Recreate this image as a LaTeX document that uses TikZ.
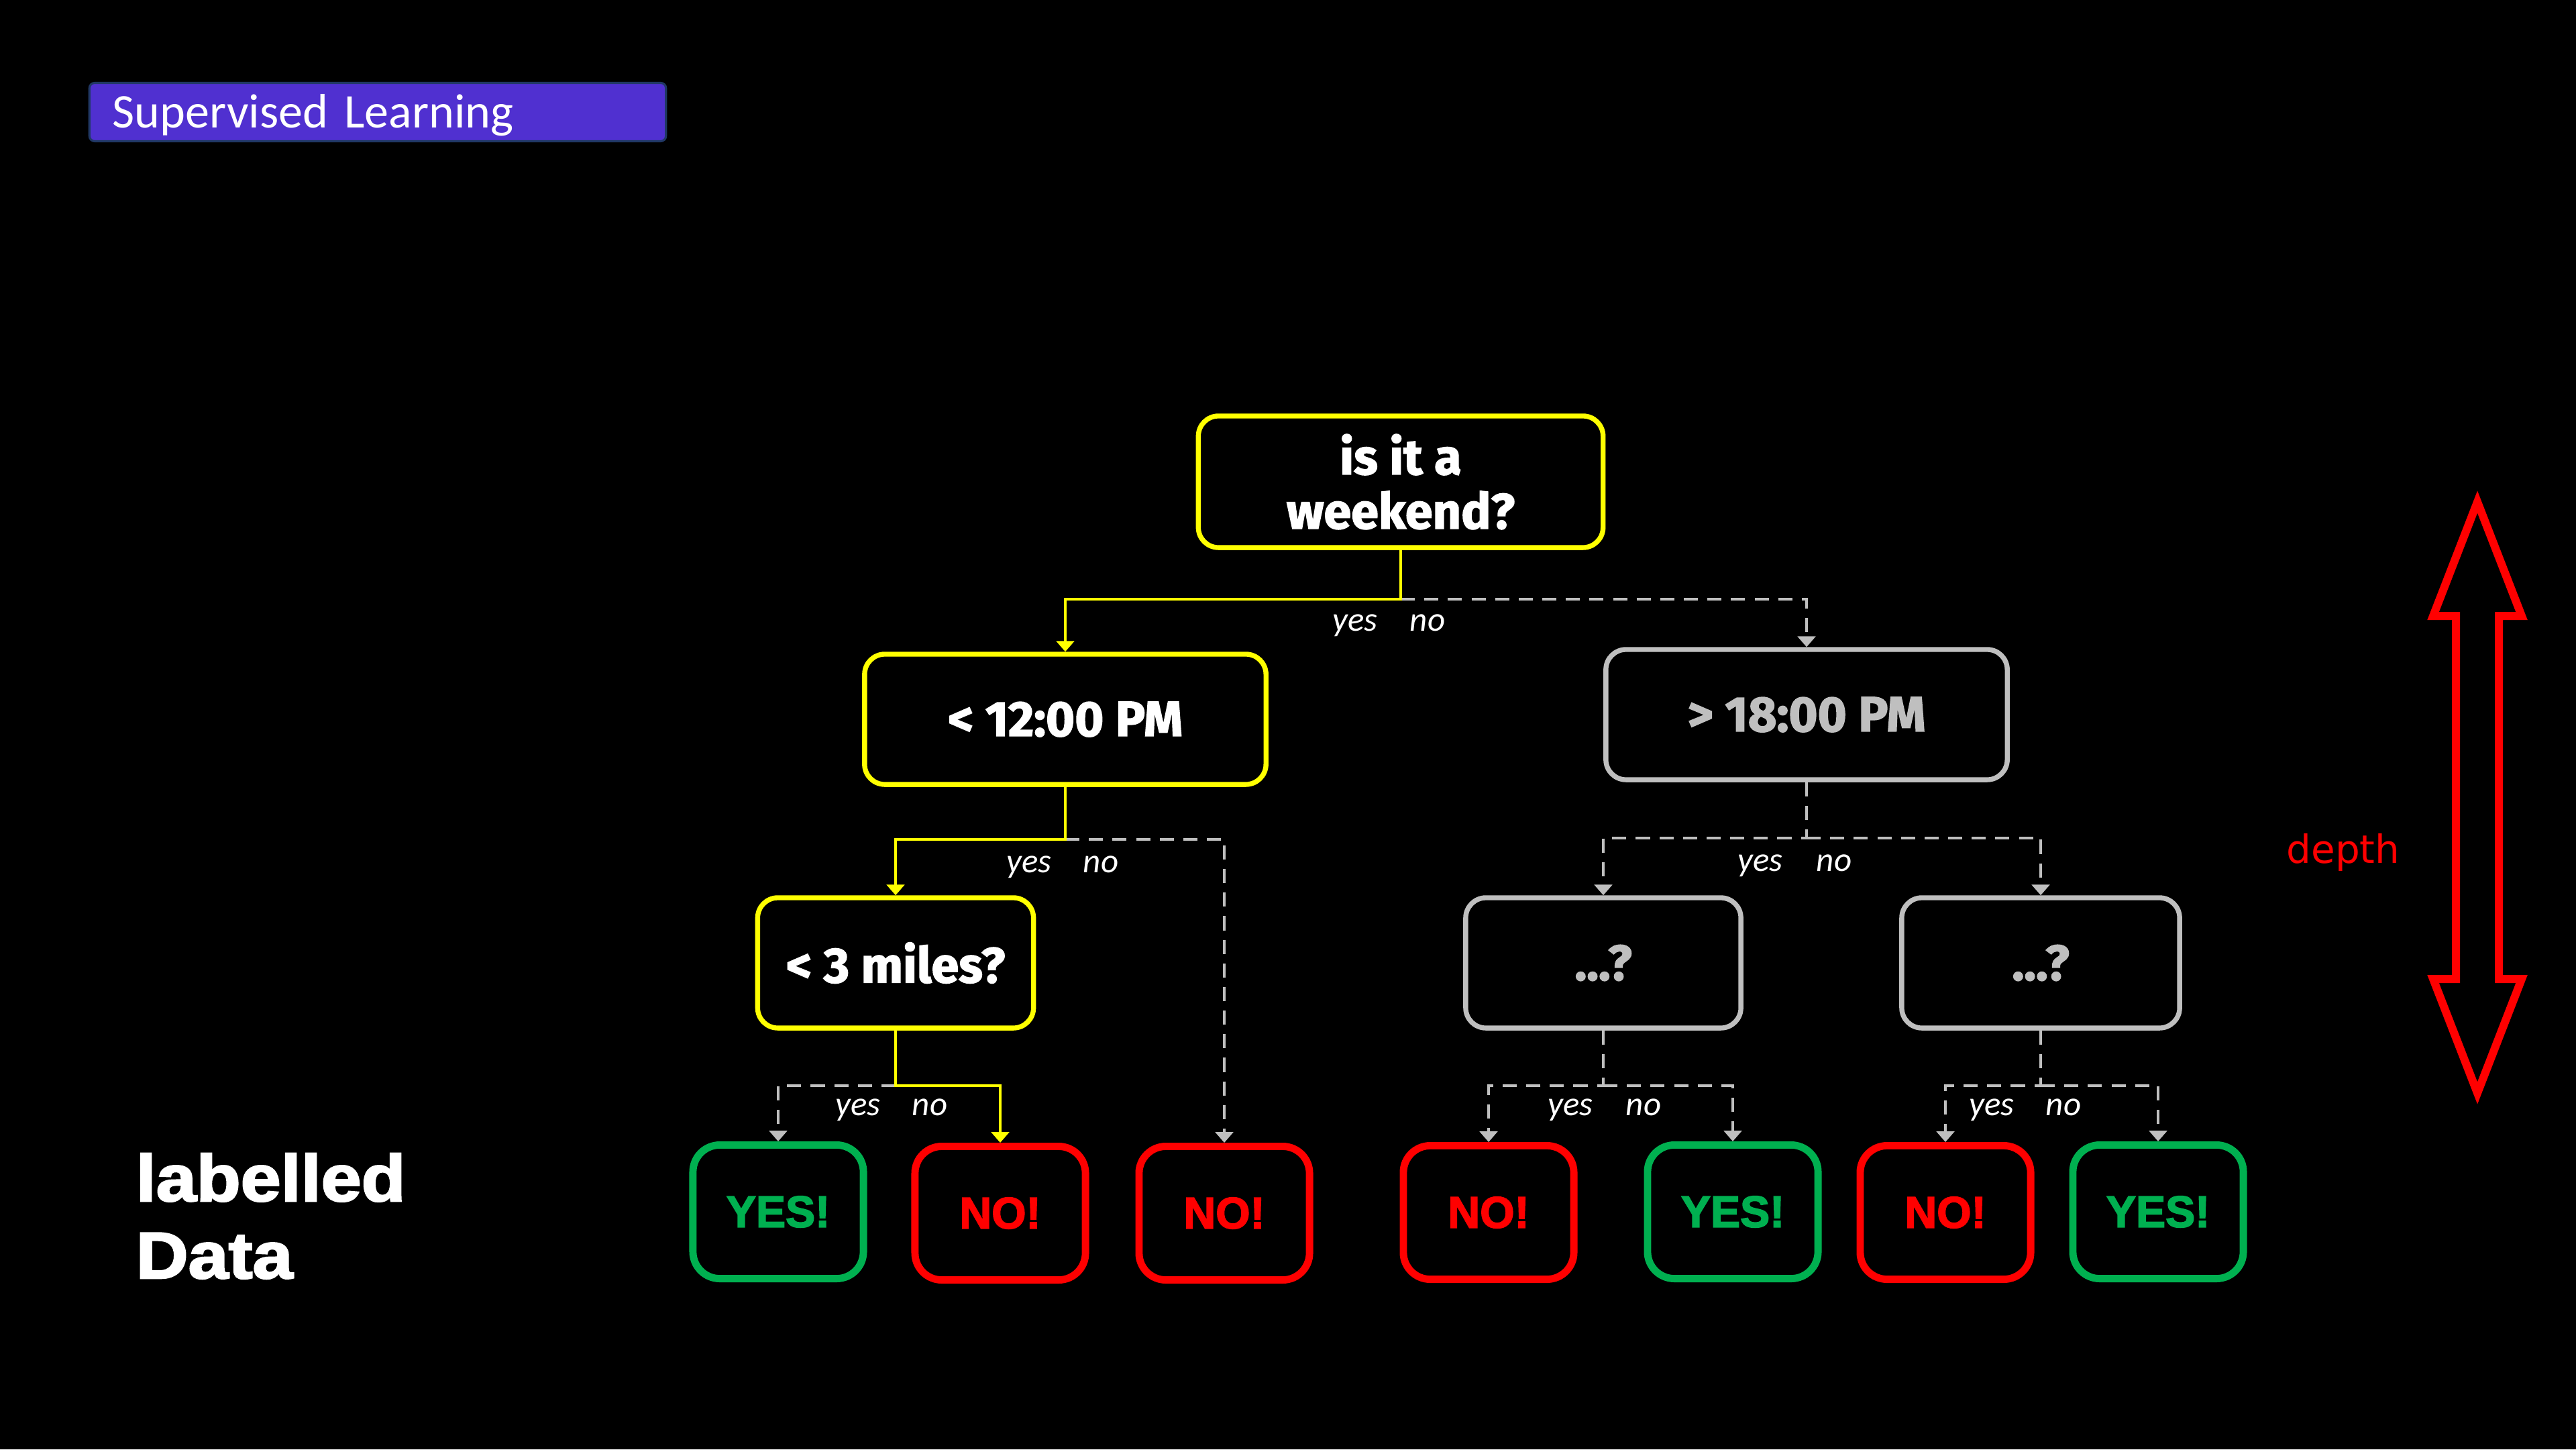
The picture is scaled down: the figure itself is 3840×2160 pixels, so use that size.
\documentclass[tikz,border=0pt]{standalone}
\usepackage{fontspec}
\usepackage{graphicx}
\setmainfont{Carlito}
\newfontfamily\qfont{Fira Sans}[BoldFeatures={FakeBold=2}]
\newfontfamily\leaffont{Liberation Sans}[BoldFeatures={FakeBold=2.5}]
\newfontfamily\depthfont{DejaVu Sans}
\usepackage{tikz}
\usetikzlibrary{positioning}
\usetikzlibrary{arrows.meta}

\definecolor{qyellow}{HTML}{FFFF00}
\definecolor{qgray}{HTML}{BFBFBF}
\definecolor{leafgreen}{HTML}{00B050}
\definecolor{leafred}{HTML}{FF0000}
\definecolor{bannerfill}{HTML}{5030D0}
\definecolor{bannerline}{HTML}{203864}

\begin{document}
\begin{tikzpicture}
  [ x=0.01cm, y=-0.01cm,
    quest/.style={rectangle, rounded corners=0.3cm, line width=2.1pt, fill=black,
      minimum width=5.98cm, minimum height=1.94cm, align=center, text=white,
      font=\qfont\bfseries\fontsize{21}{23}\selectfont},
    leaf/.style={rectangle, rounded corners=0.4cm, line width=3.1pt, fill=black,
      minimum width=2.54cm, minimum height=1.99cm,
      font=\leaffont\bfseries\fontsize{18.8}{20}\selectfont},
    yesline/.style={draw=qyellow, line width=1.3pt,
      -{Triangle[length=4.5pt,width=7.5pt]}},
    noline/.style={draw=qgray, line width=1.2pt, dash pattern=on 6pt off 4pt,
      -{Triangle[length=4.5pt,width=7.5pt]}},
    ans/.style={anchor=base, inner sep=0pt, text=white,
      font=\itshape\fontsize{14.5}{16}\selectfont},
    bigtxt/.style={inner sep=0pt, text=white,
      font=\leaffont\bfseries\fontsize{27.9}{32}\selectfont},
    banner/.style={rectangle, rounded corners=0.08cm, fill=bannerfill,
      draw=bannerline, line width=0.9pt, minimum width=8.59cm,
      minimum height=0.87cm, text width=7.9cm, text height=0.47cm,
      text depth=0pt, inner sep=0pt, align=left, text=white,
      font=\fontsize{20.5}{24}\selectfont},
    bigarrow/.style={draw=leafred, line width=0.12cm, line join=miter}
  ]

  \fill[black] (0,0) rectangle (3840,2160);
  \useasboundingbox (0,0) rectangle (3840,2160);

  \node (banner) at (563,167) [banner] {Supervised Learning};

  \node (root)  at (2088, 718) [quest, draw=qyellow, minimum width=6.03cm,
    minimum height=1.96cm] {is it a\\weekend?};
  \node (am)    at (1588,1072) [quest, draw=qyellow] {< 12:00 PM};
  \node (pm)    at (2693,1065) [quest, draw=qgray, text=qgray] {> 18:00 PM};
  \node (miles) at (1335,1435) [quest, draw=qyellow, minimum width=4.11cm] {< 3 miles?};
  \node (qL)    at (2390,1435) [quest, draw=qgray, text=qgray, minimum width=4.10cm] {...?};
  \node (qR)    at (3042,1435) [quest, draw=qgray, text=qgray, minimum width=4.14cm] {...?};

  \node (l1) at (1160,1806) [leaf, draw=leafgreen, text=leafgreen] {YES!};
  \node (l2) at (1491,1808) [leaf, draw=leafred,   text=leafred]   {NO!};
  \node (l3) at (1825,1808) [leaf, draw=leafred,   text=leafred]   {NO!};
  \node (l4) at (2219,1807) [leaf, draw=leafred,   text=leafred]   {NO!};
  \node (l5) at (2583,1806) [leaf, draw=leafgreen, text=leafgreen] {YES!};
  \node (l6) at (2900,1807) [leaf, draw=leafred,   text=leafred]   {NO!};
  \node (l7) at (3217,1806) [leaf, draw=leafgreen, text=leafgreen] {YES!};

  \coordinate (s0) at ([yshift=-0.73cm]root.south);
  \draw [noline] (s0) -| (pm.north);
  \draw [yesline] (root.south) -- (s0) -| (am.north);
  \node (s0y) at ([xshift=-0.68cm, yshift=-0.48cm]s0) [ans] {yes};
  \node (s0n) at ([xshift= 0.40cm, yshift=-0.48cm]s0) [ans] {no};

  \coordinate (s1) at ([yshift=-0.78cm]am.south);
  \draw [noline] (s1) -| (l3.north);
  \draw [yesline] (am.south) -- (s1) -| (miles.north);
  \node (s1y) at ([xshift=-0.54cm, yshift=-0.50cm]s1) [ans] {yes};
  \node (s1n) at ([xshift= 0.53cm, yshift=-0.50cm]s1) [ans] {no};

  \coordinate (s2) at ([yshift=-0.82cm]miles.south);
  \draw [noline] (s2) -| (l1.north);
  \draw [yesline] (miles.south) -- (s2) -| (l2.north);
  \node (s2y) at ([xshift=-0.56cm, yshift=-0.45cm]s2) [ans] {yes};
  \node (s2n) at ([xshift= 0.51cm, yshift=-0.45cm]s2) [ans] {no};

  \coordinate (s3) at ([yshift=-0.83cm]pm.south);
  \draw [noline] (pm.south) -- (s3) -| (qL.north);
  \draw [noline] (s3) -| (qR.north);
  \node (s3y) at ([xshift=-0.69cm, yshift=-0.50cm]s3) [ans] {yes};
  \node (s3n) at ([xshift= 0.41cm, yshift=-0.50cm]s3) [ans] {no};

  \coordinate (s4) at ([yshift=-0.82cm]qL.south);
  \draw [noline] (qL.south) -- (s4) -| (l4.north);
  \draw [noline] (s4) -| (l5.north);
  \node (s4y) at ([xshift=-0.49cm, yshift=-0.45cm]s4) [ans] {yes};
  \node (s4n) at ([xshift= 0.60cm, yshift=-0.45cm]s4) [ans] {no};

  \coordinate (s5) at ([yshift=-0.82cm]qR.south);
  \draw [noline] (qR.south) -- (s5) -| (l6.north);
  \draw [noline] (s5) -| (l7.north);
  \node (s5y) at ([xshift=-0.73cm, yshift=-0.45cm]s5) [ans] {yes};
  \node (s5n) at ([xshift= 0.34cm, yshift=-0.45cm]s5) [ans] {no};

  \node (lbl1) at (202,1790) [bigtxt, anchor=base west] {\scalebox{1.1}[1]{labelled}};
  \node (lbl2) at ([yshift=-1.15cm]lbl1.base west) [bigtxt, anchor=base west]
    {\scalebox{1.1}[1]{Data}};

  \draw [bigarrow] (3693,748) -- (3759,918) -- (3725,918) -- (3725,1459)
    -- (3759,1459) -- (3693,1629) -- (3627,1459) -- (3661,1459)
    -- (3661,918) -- (3627,918) -- cycle;
  \node (depth) at (3493,1270) [text=leafred,
    font=\depthfont\fontsize{16.5}{18}\selectfont] {depth};
\end{tikzpicture}
\end{document}
